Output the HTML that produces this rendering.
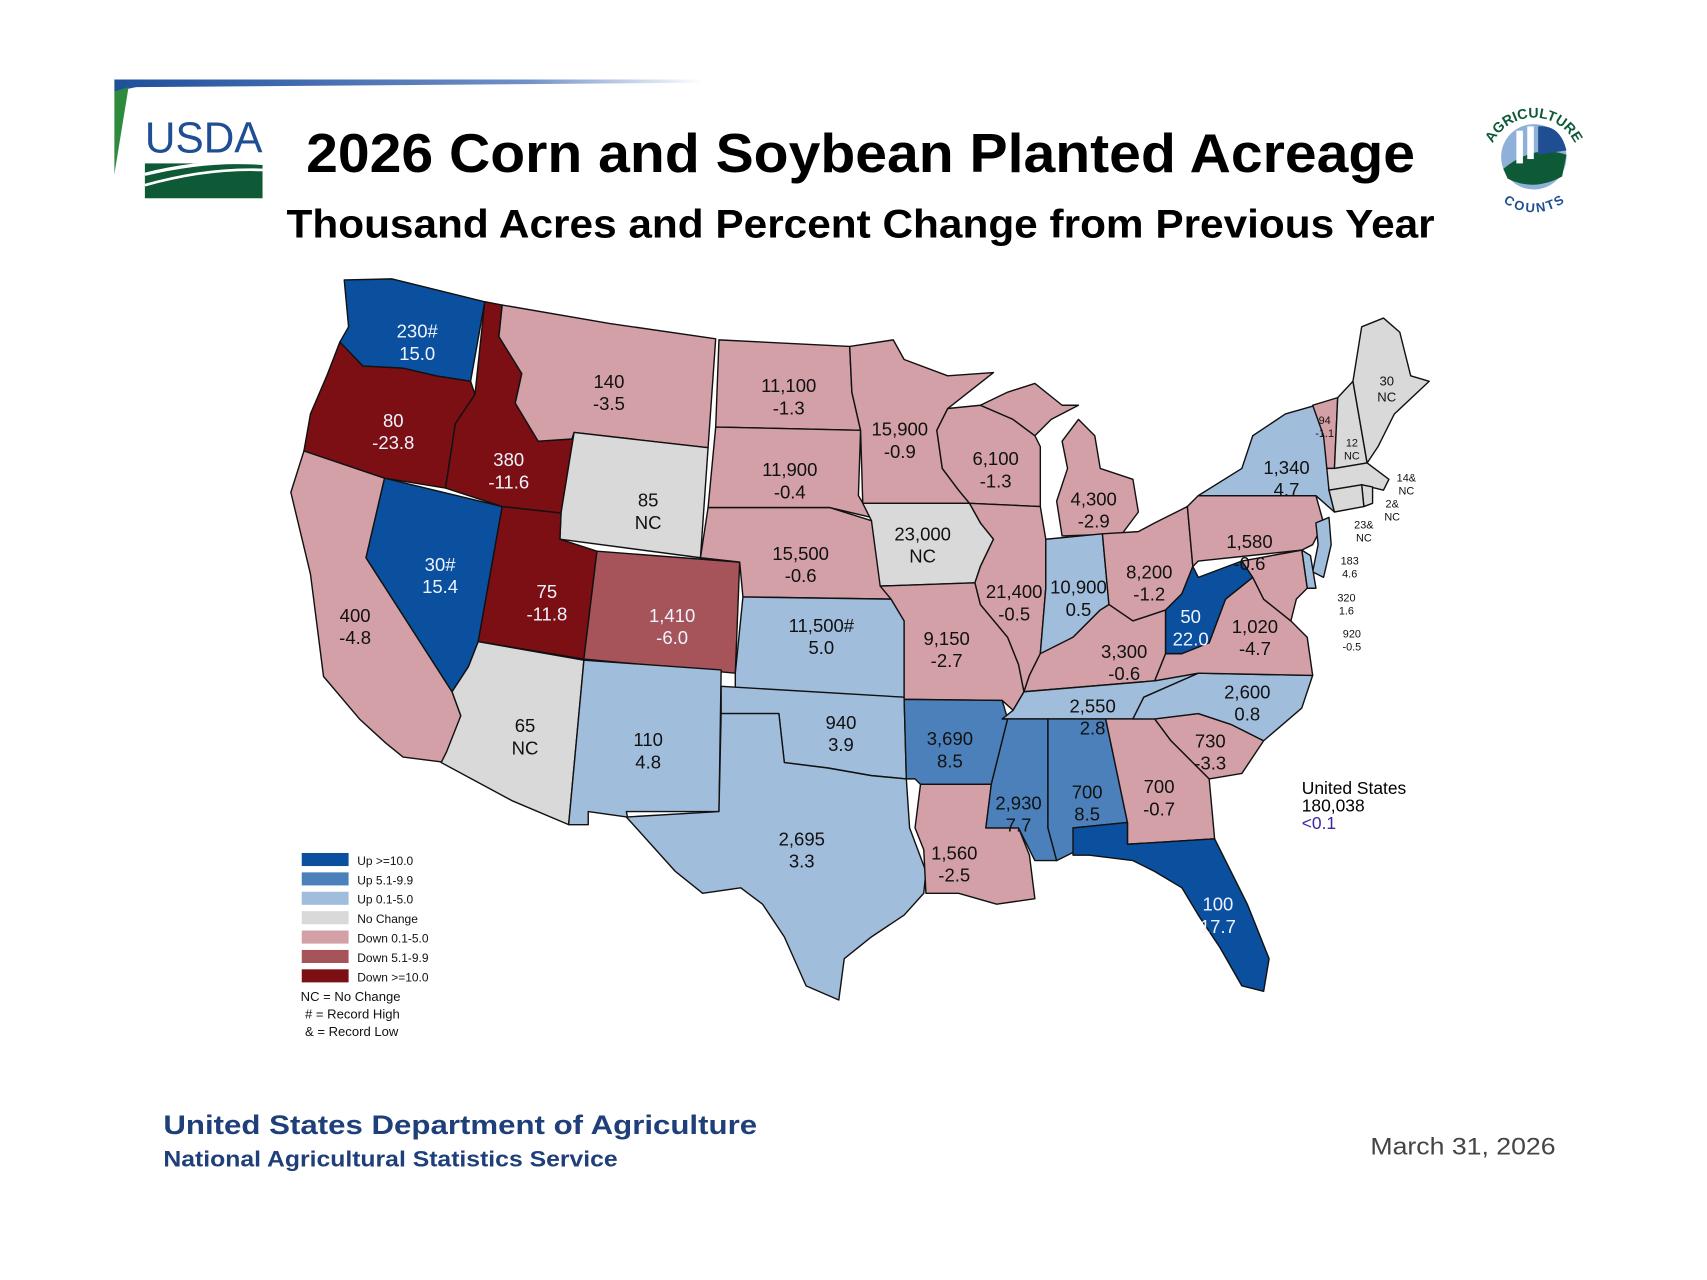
<!DOCTYPE html>
<html><head><meta charset="utf-8"><style>
html,body{margin:0;padding:0;background:#fff;}
svg{display:block;}
text{font-family:"Liberation Sans",sans-serif;}
</style></head><body>
<svg id="chart" width="1707" height="1280" viewBox="0 0 1567 1175" preserveAspectRatio="none" xmlns="http://www.w3.org/2000/svg">
<defs>
<linearGradient id="topbar" x1="0" x2="1" y1="0" y2="0">
<stop offset="0" stop-color="#1e4f9a"/><stop offset="0.7" stop-color="#6f8fc8"/><stop offset="1" stop-color="#ffffff"/>
</linearGradient>
<path id="arcTop" d="M1366,150 A42,42 0 0 1 1450,150"/>
<path id="arcBot" d="M1374,165 A38,38 0 0 0 1442,165"/>
</defs>
<g>
<polygon points="105,73 645,73 645,76 125,80 105,84" fill="url(#topbar)"/>
<polygon points="105,84 118,80 105,160" fill="#2e8b3e"/>
<g>
<text x="133" y="140" font-family="Liberation Serif" font-size="40" fill="#1f4e93" textLength="108" lengthAdjust="spacingAndGlyphs">USDA</text>
<rect x="133" y="150" width="108" height="32" fill="#0e5a36"/>
<path d="M133,160 Q190,146 241,150" stroke="#fff" stroke-width="3" fill="none"/>
<path d="M133,170 Q190,154 241,156" stroke="#fff" stroke-width="2.5" fill="none"/>
</g>
<text x="790" y="158" text-anchor="middle" font-size="50" font-weight="bold" fill="#000" textLength="1018" lengthAdjust="spacingAndGlyphs">2026 Corn and Soybean Planted Acreage</text>
<text x="790" y="218" text-anchor="middle" font-size="37" font-weight="bold" fill="#000" textLength="1054" lengthAdjust="spacingAndGlyphs">Thousand Acres and Percent Change from Previous Year</text>
<g>
<circle cx="1408" cy="144" r="30" fill="#8fb0d8"/>
<path d="M1380,155 Q1408,132 1438,142 L1434,162 Q1408,176 1384,164Z" fill="#0e5a36"/>
<rect x="1392" y="120" width="6" height="30" fill="#fff"/>
<rect x="1402" y="116" width="6" height="30" fill="#fff"/>
<path d="M1412,116 Q1432,114 1438,138 L1412,142Z" fill="#1f4e93"/>
<text font-family="Liberation Serif" font-size="13" font-weight="bold" fill="#0e5a36"><textPath href="#arcTop" startOffset="50%" text-anchor="middle">AGRICULTURE</textPath></text>
<text font-family="Liberation Serif" font-size="12" font-weight="bold" fill="#1f4e93"><textPath href="#arcBot" startOffset="50%" text-anchor="middle" dominant-baseline="hanging">COUNTS</textPath></text>
</g>
</g>
<g id="states"></g>
<g id="labels"></g>
<g>
<text x="1195" y="729" font-size="16" fill="#000">United States</text>
<text x="1195" y="745" font-size="16" fill="#000">180,038</text>
<text x="1195" y="761" font-size="16" fill="#3a2aa0">&lt;0.1</text>
</g>
<g id="legend"></g>
<g>
<text x="150" y="1041" font-size="25" font-weight="bold" fill="#1f3f7a" textLength="545" lengthAdjust="spacingAndGlyphs">United States Department of Agriculture</text>
<text x="150" y="1071" font-size="20" font-weight="bold" fill="#1f3f7a" textLength="417" lengthAdjust="spacingAndGlyphs">National Agricultural Statistics Service</text>
<text x="1428" y="1060" text-anchor="end" font-size="22" fill="#444" textLength="170" lengthAdjust="spacingAndGlyphs">March 31, 2026</text>
</g>
</svg>
<script>
// ---- data ----
const states = ["WA","OR","CA","ID","NV","MT","WY","UT","AZ","CO","NM","ND","SD","NE","KS","OK","TX","MN","IA","MO","AR","LA","WI","IL","MI","IN","OH","KY","TN","MS","AL","GA","FL","SC","NC","VA","WV","PA","NY","VT","NH","ME","MA","RI","CT","NJ","DE","MD"];
const acres = ["230#","80","400","380","30#","140","85","75","65","1,410","110","11,100","11,900","15,500","11,500#","940","2,695","15,900","23,000","9,150","3,690","1,560","6,100","21,400","4,300","10,900","8,200","3,300","2,550","2,930","700","700","100","730","2,600","1,020","50","1,580","1,340","94","12","30","14&","2&","23&","183","320","920"];
const pct = ["15.0","-23.8","-4.8","-11.6","15.4","-3.5","NC","-11.8","NC","-6.0","4.8","-1.3","-0.4","-0.6","5.0","3.9","3.3","-0.9","NC","-2.7","8.5","-2.5","-1.3","-0.5","-2.9","0.5","-1.2","-0.6","2.8","7.7","8.5","-0.7","17.7","-3.3","0.8","-4.7","22.0","-0.6","4.7","-1.1","NC","NC","NC","NC","NC","4.6","1.6","-0.5"];
const categories = ["Up >=10.0","Up 5.1-9.9","Up 0.1-5.0","No Change","Down 0.1-5.0","Down 5.1-9.9","Down >=10.0"];
const catColors = ["#0b4f9f","#4b80ba","#a1bddc","#d9d9d9","#d2a0a6","#a6545a","#7b0f14"];

function catOf(p){
  if(p==="NC") return 3;
  const v=parseFloat(p);
  if(v>=10) return 0; if(v>=5.1) return 1; if(v>0) return 2;
  if(v===0) return 3; if(v>-5.1) return 4; if(v>-10) return 5; return 6;
}

const shapes={
WA:["316,257 360,256 445,277 432,350 400,345 370,338 333,336 312,314 320,300"],
OR:["312,314 333,336 370,338 400,345 432,350 436,362 418,389 409,448 353,439 279,414 285,380 300,345"],
CA:["279,414 353,439 336,512 415,635 423,657 410,700 370,695 354,682 330,660 297,621 285,527 267,452"],
ID:["445,277 461,280 458,309 479,343 473,370 494,405 525,403 527,397 515,471 461,465 409,448 418,389 436,362"],
NV:["353,439 461,465 439,589 430,612 415,635 336,512"],
MT:["461,280 560,297 657,311 650,411 527,397 525,403 494,405 473,370 479,343 458,309"],
WY:["527,397 650,411 643,512 514,495 515,471"],
UT:["461,465 515,471 514,495 548,506 536,605 439,589"],
AZ:["439,589 536,606 522,757 470,735 405,700 410,690 423,657 415,635 430,612"],
CO:["548,506 679,516 675,618 536,605"],
NM:["536,606 662,615 660,745 575,745 576,750 540,745 540,757 522,757"],
ND:["660,312 780,318 782,360 790,395 657,392"],
SD:["657,392 790,395 788,455 800,475 762,466 650,466"],
NE:["650,466 762,466 800,478 808,510 818,550 682,548 679,516 643,512"],
KS:["682,548 818,550 830,570 830,640 675,638 675,618"],
OK:["662,630 830,640 832,715 800,712 760,705 720,700 715,655 662,655"],
TX:["662,655 715,655 720,700 760,705 800,712 832,715 835,760 850,800 848,820 830,840 800,860 775,880 770,918 740,905 720,860 700,830 680,815 645,820 620,800 575,750 660,745"],
MN:["780,318 820,312 830,330 870,345 912,342 870,375 860,395 865,430 880,450 890,462 792,462 790,395 782,360"],
IA:["792,462 890,462 900,480 912,495 900,520 895,535 808,538 800,478"],
MO:["808,538 895,535 900,555 925,585 935,610 940,635 930,652 920,643 830,642 830,570 818,550"],
AR:["830,642 920,643 925,660 915,700 910,720 845,720 840,715 832,715"],
LA:["845,720 910,720 905,760 935,760 945,785 950,825 915,830 880,820 850,820 848,780 840,760"],
WI:["870,375 900,372 930,385 950,400 955,410 955,465 890,462 880,450 865,430 860,395"],
IL:["890,462 955,465 960,495 960,540 955,600 945,620 940,635 935,610 925,585 900,555 895,535 900,520 912,495 900,480"],
MI:["990,385 1005,400 1010,430 1040,440 1045,470 1030,490 975,492 970,460 980,430 975,405","900,372 925,360 950,352 975,372 990,372 965,385 950,400 930,385"],
IN:["960,495 1012,490 1018,555 1010,560 985,585 960,600 955,600 960,540"],
OH:["1012,490 1045,488 1060,480 1090,465 1095,520 1085,545 1070,560 1040,570 1018,555"],
KY:["940,635 945,620 955,600 985,585 1010,560 1018,555 1040,570 1070,560 1070,600 1060,625"],
TN:["930,652 940,635 1060,625 1100,618 1050,640 1040,660 920,660"],
MS:["920,660 962,660 962,760 970,790 950,790 935,760 905,760 910,720 915,700 925,660"],
AL:["962,660 1015,660 1035,755 985,760 990,780 970,790 962,760"],
GA:["1015,660 1060,660 1075,680 1110,715 1115,770 1035,775 1035,755"],
FL:["985,760 1035,755 1035,775 1115,770 1145,830 1165,880 1160,910 1140,905 1120,870 1100,840 1085,815 1060,800 1040,790 1000,785 985,785"],
SC:["1060,660 1100,655 1130,665 1160,680 1140,710 1110,715 1075,680"],
NC:["1040,660 1050,640 1100,618 1205,620 1195,650 1160,680 1130,665 1100,655 1060,660"],
VA:["1060,625 1070,600 1085,600 1110,590 1125,550 1150,530 1160,550 1185,570 1200,585 1205,620 1100,618"],
WV:["1070,560 1085,545 1095,520 1100,530 1140,515 1150,530 1125,550 1110,590 1085,600 1070,600"],
PA:["1090,465 1100,455 1208,455 1215,480 1205,500 1195,505 1100,515 1095,520"],
NY:["1100,455 1140,430 1150,400 1180,380 1215,370 1220,450 1225,470 1208,455"],
VT:["1205,372 1228,365 1225,430 1218,430 1215,400"],
NH:["1228,365 1242,350 1255,425 1225,430"],
ME:["1242,350 1250,300 1270,292 1285,305 1295,345 1312,350 1280,380 1265,410 1255,425"],
MA:["1218,430 1225,430 1255,425 1275,440 1270,450 1250,445 1220,450"],
RI:["1250,445 1260,447 1260,462 1252,465"],
CT:["1220,450 1250,445 1252,465 1225,470"],
NJ:["1208,480 1220,475 1222,500 1215,530 1205,525 1210,500"],
DE:["1195,505 1203,510 1208,540 1200,540"],
MD:["1140,515 1195,505 1200,540 1190,550 1185,570 1160,550 1150,530"]
};
const anchors={WA:[383,310,17],OR:[361,392,17],CA:[326,571,17],ID:[467,428,17],NV:[404,524,17],MT:[559,356,17],WY:[595,465,17],UT:[502,549,17],AZ:[482,672,17],CO:[617,571,17],NM:[595,685,17],ND:[724,360,17],SD:[725,437,17],NE:[735,514,17],KS:[754,580,17],OK:[772,669,17],TX:[736,776,17],MN:[826,400,17],IA:[847,496,17],MO:[869,592,17],AR:[872,684,17],LA:[876,789,17],WI:[914,427,17],IL:[931,549,17],MI:[1004,464,17],IN:[990,545,17],OH:[1055,531,17],KY:[1032,604,17],TN:[1003,654,17],MS:[935,743,17],AL:[998,733,17],GA:[1064,728,17],FL:[1118,836,17],SC:[1111,686,17],NC:[1145,641,17],VA:[1152,581,17],WV:[1093,572,17],PA:[1147,503,17],NY:[1181,435,17],VT:[1216,389,10],NH:[1241,410,10],ME:[1273,354,12],MA:[1291,442,10],RI:[1278,466,10],CT:[1252,485,10],NJ:[1239,518,10],DE:[1236,552,10],MD:[1241,585,10]};

const NS="http://www.w3.org/2000/svg";
const gS=document.getElementById('states');
const gL=document.getElementById('labels');
states.forEach((s,i)=>{
  const c=catOf(pct[i]);
  shapes[s].forEach(pts=>{
    const p=document.createElementNS(NS,'polygon');
    p.setAttribute('points',pts);
    p.setAttribute('fill',catColors[c]);
    p.setAttribute('stroke','#111');
    p.setAttribute('stroke-width','1.3');
    p.setAttribute('stroke-linejoin','round');
    
    
    gS.appendChild(p);
  });
  const a=anchors[s];
  const fs=a[2];
  const col=(c===0||c===5||c===6)?'#eef4ff':'#111';
  const t=document.createElementNS(NS,'text');
  t.setAttribute('x',a[0]);t.setAttribute('y',a[1]);
  t.setAttribute('text-anchor','middle');
  t.setAttribute('font-size',fs);
  t.setAttribute('fill',col);
  
  
  const t1=document.createElementNS(NS,'tspan');
  t1.setAttribute('x',a[0]);t1.textContent=acres[i];
  const t2=document.createElementNS(NS,'tspan');
  t2.setAttribute('x',a[0]);t2.setAttribute('dy',fs*1.2);t2.textContent=pct[i];
  t.appendChild(t1);t.appendChild(t2);
  gL.appendChild(t);
});

const gLeg=document.getElementById('legend');
categories.forEach((c,i)=>{
  const y=783+i*17.8;
  const r=document.createElementNS(NS,'rect');
  r.setAttribute('x',277);r.setAttribute('y',y);r.setAttribute('width',43);r.setAttribute('height',12);
  r.setAttribute('fill',catColors[i]);
  
  
  gLeg.appendChild(r);
  const t=document.createElementNS(NS,'text');
  t.setAttribute('x',328);t.setAttribute('y',y+11);t.setAttribute('font-size',11);t.setAttribute('fill','#111');
  
  
  t.textContent=c;
  gLeg.appendChild(t);
});
["NC = No Change","# = Record High","& = Record Low"].forEach((s,i)=>{
  const t=document.createElementNS(NS,'text');
  t.setAttribute('x',i===0?276:280);t.setAttribute('y',919+i*16);t.setAttribute('font-size',12);t.setAttribute('fill','#111');
  
  
  t.textContent=s;
  gLeg.appendChild(t);
});
</script>
</body></html>
